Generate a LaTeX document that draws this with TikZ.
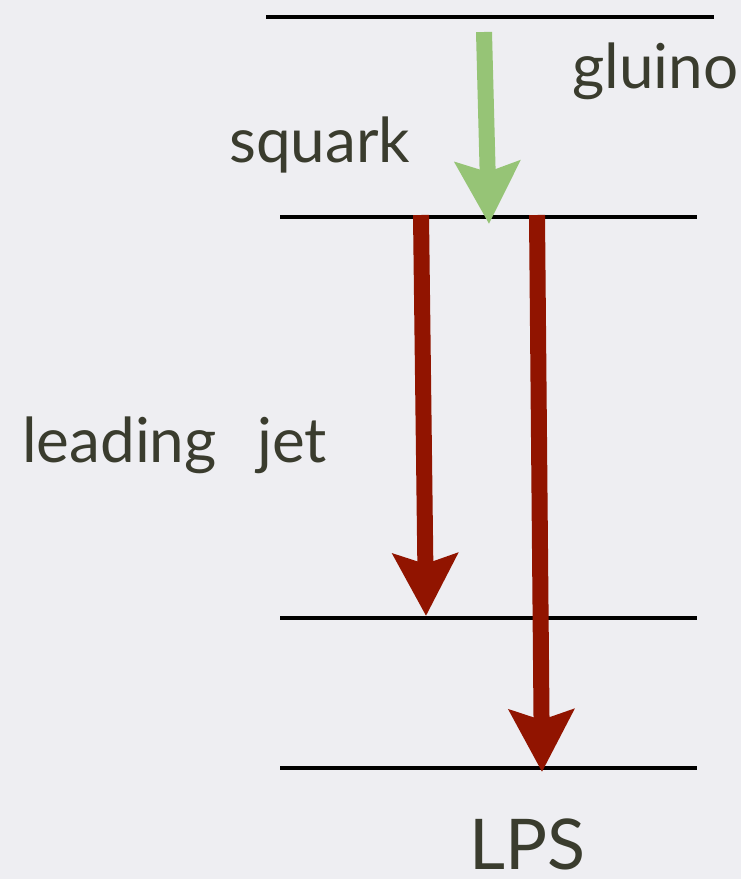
\documentclass[tikz,border=0pt]{standalone}
\usepackage{fontspec}
\setmainfont{Lato}
\usetikzlibrary{arrows.meta}
\definecolor{bgc}{RGB}{238,238,242}
\definecolor{txt}{RGB}{58,60,46}
\definecolor{jetred}{RGB}{145,20,0}
\definecolor{glgreen}{RGB}{150,196,118}
\tikzset{
  level/.style={line width=4.5pt, black},
  bigarrow/.style={line width=16pt, -{Stealth[length=62pt, width=64pt, inset=10pt]}},
  lab/.style={text=txt, inner sep=0pt, anchor=base west, font=\fontsize{62}{70}\selectfont},
}
\begin{document}
\begin{tikzpicture}[x=1pt,y=-1pt]
\fill[bgc] (0,0) rectangle (741,879);
\useasboundingbox (0,0) rectangle (741,879);
% level lines
\coordinate (g1) at (266,17);  \coordinate (g2) at (714,17);
\coordinate (s1) at (280,217); \coordinate (s2) at (697,217);
\coordinate (n1) at (280,618); \coordinate (n2) at (697,618);
\coordinate (l1) at (280,768); \coordinate (l2) at (697,768);
\draw[level] (g1) -- (g2);
\draw[level] (s1) -- (s2);
\draw[level] (n1) -- (n2);
\draw[level] (l1) -- (l2);
% arrows
\coordinate (ga) at (484,32);  \coordinate (gb) at (489,224);
\coordinate (ja) at (421,215); \coordinate (jb) at (426,616);
\coordinate (ka) at (537,215); \coordinate (kb) at (542,772);
\draw[bigarrow, glgreen] (ga) -- (gb);
\draw[bigarrow, jetred] (ja) -- (jb);
\draw[bigarrow, jetred] (ka) -- (kb);
% labels
\node[lab] (gluino) at (572,88) {gluino};
\node[lab] (squark) at (229,162) {squark};
\node[lab] (jet) at (22,462) {leading\hspace{0.4em} jet};
\node[lab, font=\fontsize{70}{76}\selectfont, text depth=0pt] (lps) at (469,869) {LPS};
\end{tikzpicture}
\end{document}
